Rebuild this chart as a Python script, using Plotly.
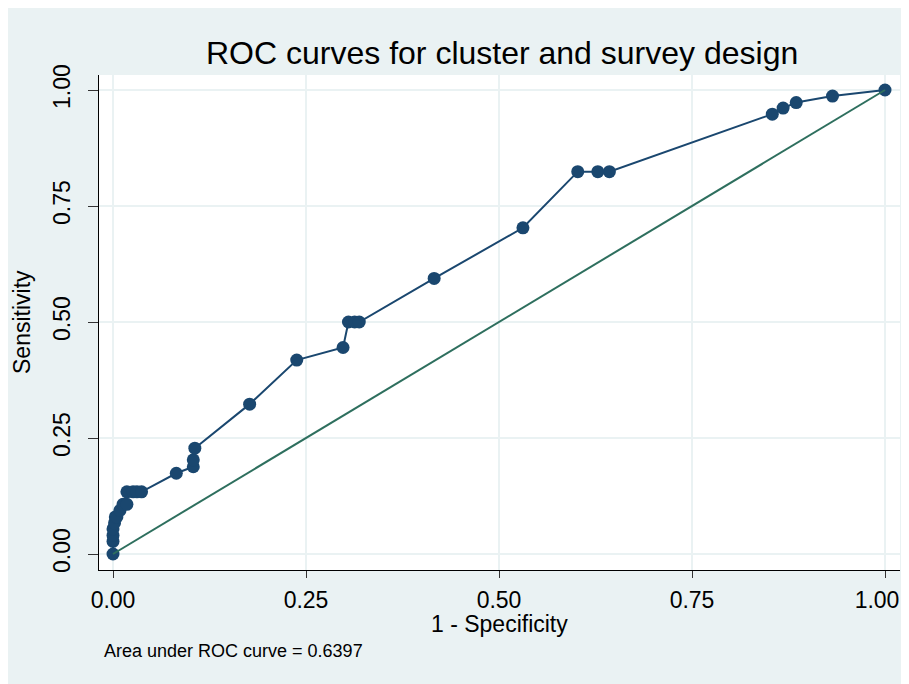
import plotly.graph_objects as go

# ROC curve points (1 - specificity, sensitivity)
fpr = [0.0, 0.0, 0.0, 0.0, 0.002, 0.003, 0.005, 0.009, 0.013, 0.018, 0.018, 0.026, 0.031,
       0.037, 0.082, 0.104, 0.104, 0.106, 0.177, 0.238, 0.298, 0.305, 0.313, 0.319, 0.416,
       0.531, 0.602, 0.628, 0.643, 0.854, 0.868, 0.885, 0.932, 1.0]
tpr = [0.0, 0.027, 0.040, 0.054, 0.067, 0.080, 0.080, 0.094, 0.107, 0.107, 0.134, 0.134, 0.134,
       0.134, 0.174, 0.188, 0.203, 0.228, 0.323, 0.418, 0.445, 0.500, 0.500, 0.500, 0.594,
       0.703, 0.824, 0.824, 0.824, 0.948, 0.961, 0.973, 0.987, 1.0]
ref_x = [0.0, 1.0]
ref_y = [0.0, 1.0]
tick_vals = [0.0, 0.25, 0.5, 0.75, 1.0]
tick_text = ["0.00", "0.25", "0.50", "0.75", "1.00"]
auc_text = "Area under ROC curve = 0.6397"

NAVY = "#1A476F"
GREEN = "#2E6F5E"
BG = "#EAF2F3"
FONT = "Liberation Sans, Arial, sans-serif"

# page is drawn with an 8px body margin; coordinates below are page pixels
OFF = 8
W, H = 893, 676
PL, PR, PT, PB = 99, 900, 75, 570          # plot area in page pixels
L, T = PL - OFF, PT - OFF
R = W - (PR - OFF)
B = H - (PB - OFF)
pw, ph = W - L - R, H - T - B

def px_x(px):
    return (px - OFF - L) / pw

def px_y(py):
    return (H - B - (py - OFF)) / ph

# data-to-pixel anchors (page pixels)
X0PX, X1PX = 113, 885
Y0PX, Y1PX = 554, 90
sx = (X1PX - X0PX)
sy = (Y0PX - Y1PX)
xrange_ = [(PL - X0PX) / sx, (PR - X0PX) / sx]

fig = go.Figure()
fig.add_trace(go.Scatter(x=fpr, y=tpr, mode="lines+markers",
                         line=dict(color=NAVY, width=2),
                         marker=dict(color=NAVY, size=13),
                         showlegend=False, hoverinfo="x+y", cliponaxis=False))
fig.add_trace(go.Scatter(x=ref_x, y=ref_y, mode="lines", xaxis="x2",
                         line=dict(color=GREEN, width=2),
                         showlegend=False, hoverinfo="skip"))

tickfont = dict(family=FONT, size=23, color="black")
axis_common = dict(
    showgrid=True, gridcolor=BG, gridwidth=2,
    zeroline=False, showline=True, linecolor="black", linewidth=1,
    ticks="outside", tickcolor="#333333", tickwidth=1,
    tickfont=tickfont,
)

# last x label is drawn by an overlaying axis, nudged so it stays inside the page
main_xtext = tick_text[:-1] + [""]
fig.update_layout(
    xaxis=dict(range=xrange_, tickvals=tick_vals, ticktext=main_xtext, ticklen=7,
               ticklabelstandoff=2, **axis_common),
    xaxis2=dict(range=xrange_, overlaying="x", anchor="y", side="bottom",
                tickvals=tick_vals[-1:], ticktext=tick_text[-1:],
                showgrid=False, zeroline=False, showline=False, ticks="outside",
                ticklen=7, tickcolor="rgba(0,0,0,0)", tickfont=tickfont,
                ticklabelstandoff=2, ticklabelshift=-8, ticklabeloverflow="allow"),
    yaxis=dict(range=[-(PB - Y0PX) / sy, 1 + (Y1PX - PT) / sy], tickvals=tick_vals,
               ticktext=tick_text, ticklen=10, tickangle=-90, ticklabelstandoff=9,
               **axis_common),
)

fig.update_layout(
    width=W, height=H,
    margin=dict(l=L, r=R, t=T, b=B, pad=0),
    paper_bgcolor=BG, plot_bgcolor="white",
    font=dict(family=FONT, color="black"),
    annotations=[
        dict(text="ROC curves for cluster and survey design", x=px_x(502), y=px_y(53),
             xref="paper", yref="paper", showarrow=False, xanchor="center", yanchor="middle",
             font=dict(family=FONT, size=32, color="black")),
        dict(text="1 - Specificity", x=px_x(499.5), y=px_y(624),
             xref="paper", yref="paper", showarrow=False, xanchor="center", yanchor="middle",
             font=dict(family=FONT, size=23, color="black")),
        dict(text="Sensitivity", x=px_x(22), y=px_y(322),
             xref="paper", yref="paper", showarrow=False, xanchor="center", yanchor="middle",
             textangle=-90, font=dict(family=FONT, size=23, color="black")),
        dict(text=auc_text, x=px_x(102), y=px_y(651),
             xref="paper", yref="paper", showarrow=False, xanchor="left", yanchor="middle",
             font=dict(family=FONT, size=18, color="black")),
    ],
)

fig.write_html("out.html")
